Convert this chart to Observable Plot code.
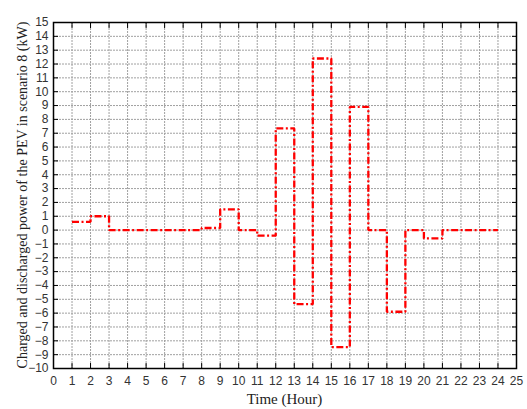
<!DOCTYPE html>
<html>
<head>
<meta charset="utf-8">
<script src="https://cdn.jsdelivr.net/npm/d3@7"></script>
<script src="https://cdn.jsdelivr.net/npm/@observablehq/plot@0.6"></script>
<style>
  html, body { margin: 0; padding: 0; background: #fff; }
  #chart { width: 527px; height: 409px; }
</style>
</head>
<body>
<div id="chart"></div>
<script>
const hours = [1,2,3,4,5,6,7,8,9,10,11,12,13,14,15,16,17,18,19,20,21,22,23,24];
const power = [0.6,1.0,0,0,0,0,0,0.15,1.5,0,-0.4,7.35,-5.35,12.4,-8.45,8.9,0,-5.9,0,-0.6,0,0,0,0];
const xTicks = d3.range(0, 26);
const yTicks = d3.range(-10, 16);
const xLabel = "Time (Hour)";
const yLabel = "Charged and discharged power of the PEV in scenario 8 (kW)";

const data = hours.map((h, i) => ({hour: h, power: power[i]}));

const grid = {stroke: "#a0a0a0", strokeWidth: 1, strokeDasharray: "2,1"};
const tickFont = {fontSize: 12, fontFamily: "Liberation Sans, Arial, sans-serif", fill: "#333"};

const chart = Plot.plot({
  width: 527,
  height: 409,
  marginLeft: 53,
  marginRight: 11,
  marginTop: 22,
  marginBottom: 41,
  style: {fontFamily: "Liberation Sans, Arial, sans-serif", fontSize: "12px", background: "#fff", color: "#222"},
  x: {domain: [0, 25]},
  y: {domain: [-10, 15]},
  marks: [
    Plot.ruleX(xTicks, {...grid}),
    Plot.ruleY(yTicks, {...grid}),
    Plot.line(data, {x: "hour", y: "power", curve: "step-after", stroke: "#ff0000", strokeWidth: 2.3, strokeDasharray: "7,2.5,2,2.5", strokeLinecap: "butt", strokeLinejoin: "miter"}),
    Plot.axisX(xTicks, {anchor: "bottom", tickSize: 0, tickPadding: 8, label: null, ...tickFont}),
    Plot.axisX(xTicks, {anchor: "bottom", tickSize: -5, tickFormat: () => "", label: null, stroke: "#000"}),
    Plot.axisX(xTicks, {anchor: "top", tickSize: -5, tickFormat: () => "", label: null, stroke: "#000"}),
    Plot.axisY(yTicks, {anchor: "left", tickSize: 0, tickPadding: 5, label: null, ...tickFont}),
    Plot.axisY(yTicks, {anchor: "left", tickSize: -5, tickFormat: () => "", label: null, stroke: "#000"}),
    Plot.axisY(yTicks, {anchor: "right", tickSize: -5, tickFormat: () => "", label: null, stroke: "#000"}),
    Plot.frame({stroke: "#000", strokeWidth: 1.5})
  ]
});

const svg = d3.select(chart);
svg.append("text")
  .attr("x", 53 + (527 - 53 - 11) / 2)
  .attr("y", 404)
  .attr("text-anchor", "middle")
  .attr("font-family", "Liberation Serif, Times New Roman, serif")
  .attr("font-size", 15)
  .attr("fill", "#222")
  .text(xLabel);
svg.append("text")
  .attr("transform", `translate(27, ${22 + (409 - 22 - 41) / 2}) rotate(-90)`)
  .attr("text-anchor", "middle")
  .attr("font-family", "Liberation Serif, Times New Roman, serif")
  .attr("font-size", 14)
  .attr("fill", "#222")
  .text(yLabel);

document.getElementById("chart").appendChild(chart);
</script>
</body>
</html>
